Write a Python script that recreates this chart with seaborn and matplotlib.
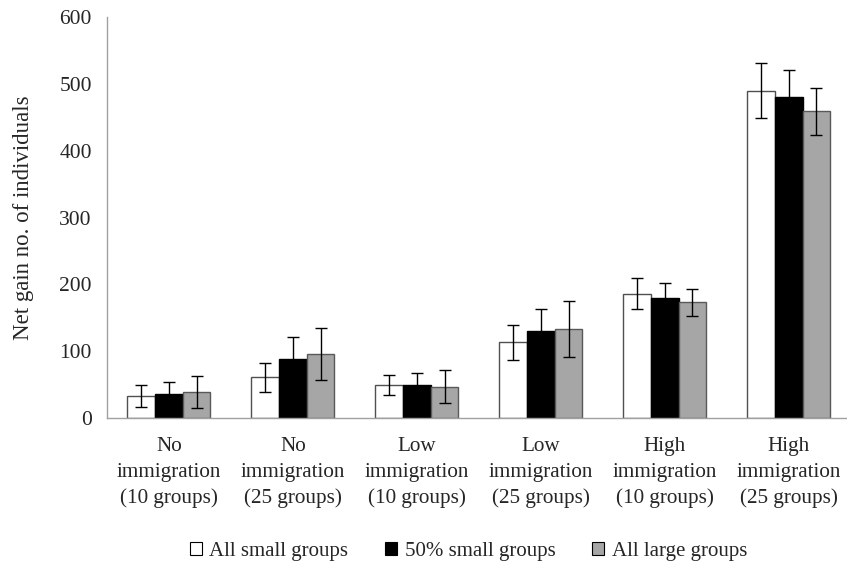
import numpy as np
import pandas as pd
import matplotlib
matplotlib.use("Agg")
import matplotlib.pyplot as plt
import seaborn as sns
from matplotlib.patches import Patch

categories = ["No\nimmigration\n(10 groups)", "No\nimmigration\n(25 groups)",
              "Low\nimmigration\n(10 groups)", "Low\nimmigration\n(25 groups)",
              "High\nimmigration\n(10 groups)", "High\nimmigration\n(25 groups)"]
series = ["All small groups", "50% small groups", "All large groups"]
all_small = [33, 61, 49, 113, 186, 490]
half_small = [36, 89, 49, 130, 180, 480]
all_large = [39, 96, 47, 133, 173, 459]
err_all_small = [16, 22, 15, 26, 23, 41]
err_half_small = [18, 32, 18, 33, 22, 40]
err_all_large = [24, 39, 25, 42, 20, 35]
y_ticks = [0, 100, 200, 300, 400, 500, 600]

colors = ["#ffffff", "#000000", "#a6a6a6"]
edges = ["#505050", "#000000", "#595959"]

rows = []
for s, vals, errs in zip(series, [all_small, half_small, all_large],
                         [err_all_small, err_half_small, err_all_large]):
    for c, v, e in zip(categories, vals, errs):
        rows.append({"category": c, "series": s, "value": v, "err": e})
df = pd.DataFrame(rows)

sns.set_style("white")
plt.rcParams["font.family"] = ["Liberation Serif", "DejaVu Serif"]

fig = plt.figure(figsize=(8.47, 5.67), dpi=100)
ax = fig.add_axes([0.1263, 0.2628, 1.0 - 0.1263, 0.970 - 0.2628])

sns.barplot(data=df, x="category", y="value", hue="series", order=categories,
            hue_order=series, palette=colors, width=0.67, gap=0,
            errorbar=None, ax=ax, legend=False, saturation=1)

for i, (container, s) in enumerate(zip(ax.containers, series)):
    sub = df[df["series"] == s].set_index("category").loc[categories]
    xs = []
    for patch in container.patches:
        patch.set_edgecolor(edges[i])
        patch.set_linewidth(1.0)
        xs.append(patch.get_x() + patch.get_width() / 2)
    ax.errorbar(xs, sub["value"].values, yerr=sub["err"].values, fmt="none",
                ecolor="#000000", elinewidth=1.0, capsize=4, capthick=1.0, zorder=5)

ax.set_xlim(-0.5, 5.47)
ax.set_ylim(0, 600)
ax.set_yticks(y_ticks)
ax.set_yticklabels([str(t) for t in y_ticks], fontsize=15.5)
ax.set_xlabel("")
ax.set_ylabel("Net gain no. of individuals", fontsize=16.5, labelpad=18)
ax.tick_params(axis="x", which="major", length=0, labelsize=15.2, pad=14)
ax.set_xticks(np.arange(0.5, 5.0, 1.0), minor=True)
ax.tick_params(axis="x", which="minor", length=6, color="#a0a0a0", width=1, direction="out")
ax.tick_params(axis="y", which="major", length=5, color="#a0a0a0", width=1, direction="out", pad=6)
for lab in ax.get_xticklabels():
    lab.set_linespacing(1.45)

for side in ["top", "right"]:
    ax.spines[side].set_visible(False)
for side in ["left", "bottom"]:
    ax.spines[side].set_color("#a0a0a0")
    ax.spines[side].set_linewidth(1.0)

handles = [Patch(facecolor=colors[i], edgecolor="#000000", linewidth=0.8, label=series[i])
           for i in range(3)]
fig.legend(handles=handles, loc="center", bbox_to_anchor=(0.553, 0.028), ncol=3,
           frameon=False, fontsize=15, handlelength=0.6, handleheight=0.6,
           handletextpad=0.35, columnspacing=1.75)

fig.savefig("out.png", dpi=100)
